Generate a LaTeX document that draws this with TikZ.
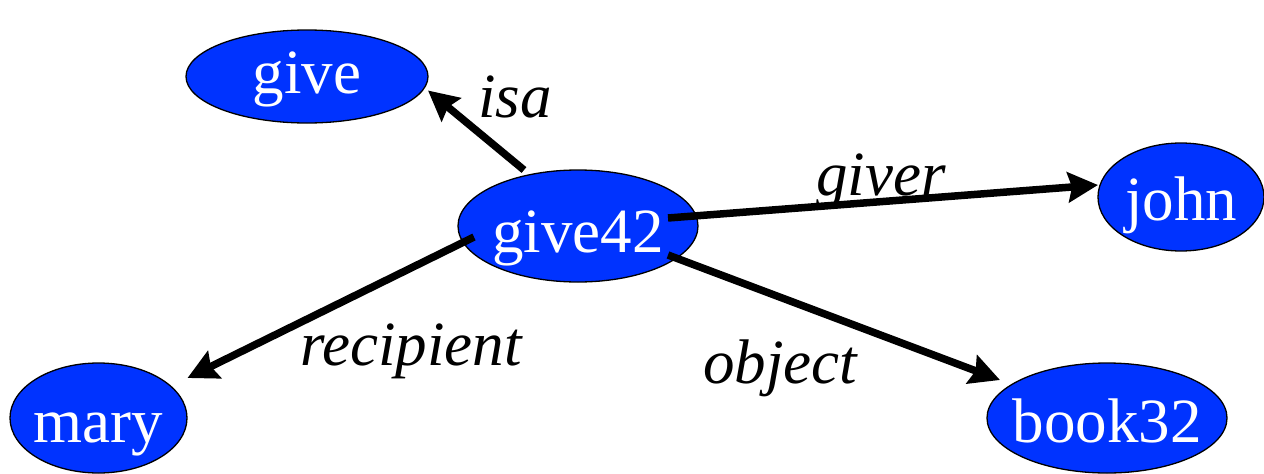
\documentclass[tikz,border=0pt]{standalone}
\usepackage{fontspec}
\setmainfont{Liberation Serif}
\usetikzlibrary{arrows.meta,calc,shapes.geometric}
\definecolor{conceptblue}{RGB}{0,51,255}
\newcommand{\bigsize}{\fontsize{63}{70}\selectfont}
\tikzset{
  concept/.style n args={3}{ellipse, draw=black, line width=1.3pt, fill=conceptblue,
    text=white, inner sep=0pt, minimum width=#1, minimum height=#2,
    text height=#3, text depth=0pt, font=\bigsize},
  relation/.style={line width=7.5pt,
    -{Stealth[length=30pt,width=30pt,inset=4pt]}},
  rellabel/.style={anchor=base, inner sep=0pt, font=\bigsize\itshape}
}
\begin{document}
\begin{tikzpicture}[x=1pt,y=-1pt]
  \useasboundingbox (0,0) rectangle (1264,474);

  % concept nodes
  \node[concept={242pt}{93pt}{34pt}]  (give)   at (307,76.5) {\makebox[0pt]{give}};
  \node[concept={240pt}{112pt}{52pt}] (give42) at (578,226)  {\makebox[0pt]{give42}};
  \node[concept={166pt}{108pt}{46pt}] (john)   at (1181,197) {\makebox[0pt]{john}};
  \node[concept={177pt}{110pt}{48pt}] (mary)   at (98.5,418) {\makebox[0pt]{mary}};
  \node[concept={240pt}{110pt}{48pt}] (book32) at (1107,418) {\makebox[0pt]{book32}};

  % relations
  \draw[relation] ($(give42)+(-54,-56)$) -- ($(give)+(121,14)$);
  \draw[relation] ($(give42)+(90,-8)$)   -- ($(john)+(-83,-12)$);
  \draw[relation] ($(give42)+(-104,11)$) -- ($(mary)+(89,-40)$);
  \draw[relation] ($(give42)+(90,29)$)   -- ($(book32)+(-107,-38)$);

  % relation labels
  \node[rellabel] (lisa)   at (515,117) {isa};
  \node[rellabel] (lgiver) at (881,195) {giver};
  \node[rellabel] (lrec)   at (411,365) {recipient};
  \node[rellabel] (lobj)   at (780,383) {object};
\end{tikzpicture}
\end{document}
